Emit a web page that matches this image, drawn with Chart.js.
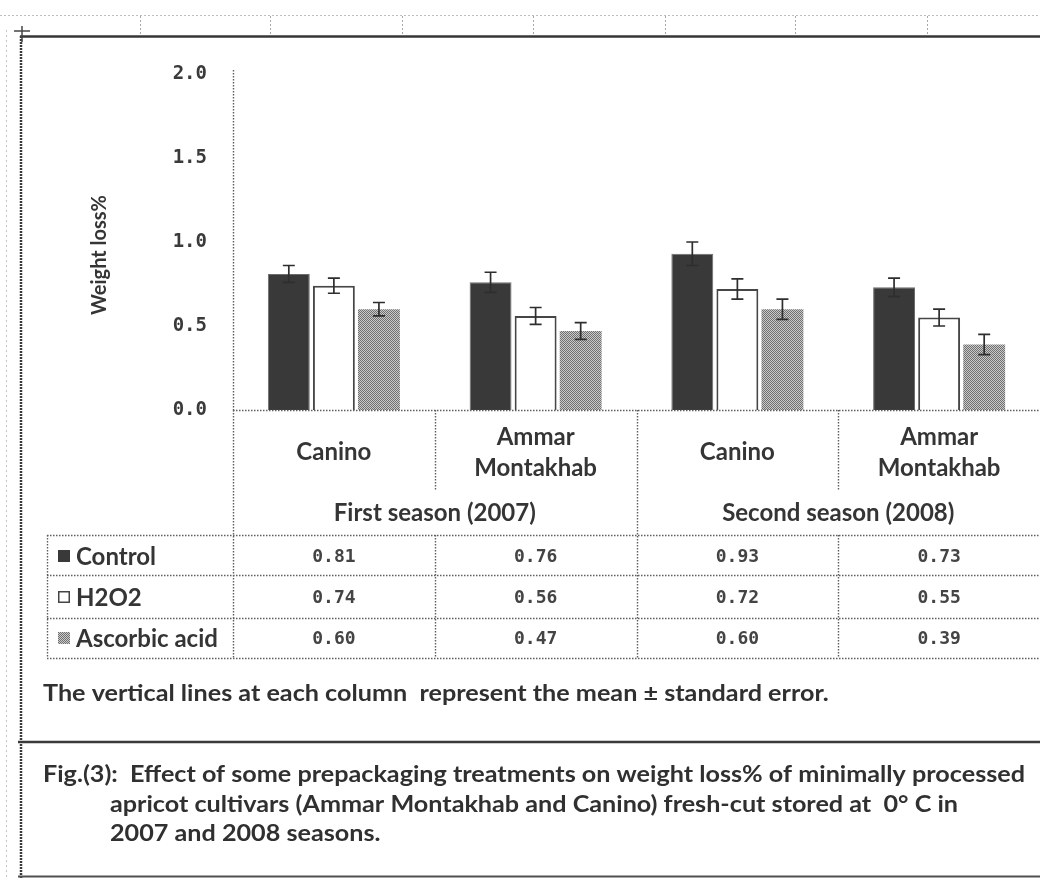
<!DOCTYPE html>
<html>
<head>
<meta charset="utf-8">
<title>Weight loss% of fresh-cut apricot</title>
<script src="https://cdn.jsdelivr.net/npm/chart.js@4.4.1/dist/chart.umd.min.js"></script>
<style>
  html, body { margin: 0; padding: 0; background: #ffffff; }
  canvas { display: block; }
</style>
</head>
<body>
<canvas id="chart" width="1040" height="878"></canvas>
<script>
// ---- data ----
const categories = [['Canino'], ['Ammar', 'Montakhab'], ['Canino'], ['Ammar', 'Montakhab']];
const seasons = ['First season (2007)', 'Second season (2008)'];
const seriesNames = ['Control', 'H2O2', 'Ascorbic acid'];
const controlValues = [0.81, 0.76, 0.93, 0.73];
const h2o2Values = [0.74, 0.56, 0.72, 0.55];
const ascorbicValues = [0.60, 0.47, 0.60, 0.39];
const controlErrors = [0.05, 0.06, 0.07, 0.055];
const h2o2Errors = [0.045, 0.05, 0.06, 0.05];
const ascorbicErrors = [0.04, 0.05, 0.06, 0.06];
const yTickValues = [0, 0.5, 1.0, 1.5, 2.0];
const yTitle = 'Weight loss%';
const noteText = 'The vertical lines at each column  represent the mean \u00b1 standard error.';
const captionLines = [
  'Fig.(3):  Effect of some prepackaging treatments on weight loss% of minimally processed',
  'apricot cultivars (Ammar Montakhab and Canino) fresh-cut stored at  0\u00b0 C in',
  '2007 and 2008 seasons.'
];

// ---- styles ----
const INK = '#353535';
const LABEL_FONT = 'bold 24px Lato, "Open Sans", sans-serif';
const NUM_FONT = 'bold 18px "DejaVu Sans Mono", "Liberation Mono", monospace';

// fine dotted grey fill used for the ascorbic-acid columns
function dotPattern() {
  const c = document.createElement('canvas');
  c.width = 4; c.height = 4;
  const g = c.getContext('2d');
  g.fillStyle = '#cacaca';
  g.fillRect(0, 0, 4, 4);
  g.fillStyle = '#707070';
  for (let y = 0; y < 4; y++) {
    for (let x = 0; x < 4; x++) {
      if ((x + y) % 2 === 0) g.fillRect(x, y, 1, 1);
    }
  }
  return g.createPattern(c, 'repeat');
}
const ascorbicFill = dotPattern();

const seriesStyles = [
  { backgroundColor: '#393939', borderColor: '#6c6c6c', borderWidth: 1 },
  { backgroundColor: '#ffffff', borderColor: '#464646', borderWidth: 2 },
  { backgroundColor: ascorbicFill, borderColor: ascorbicFill, borderWidth: 0 }
];
const seriesValues = [controlValues, h2o2Values, ascorbicValues];
const seriesErrors = [controlErrors, h2o2Errors, ascorbicErrors];

// ---- helpers ----
function dashedLine(ctx, x1, y1, x2, y2, color, width, dash) {
  ctx.save();
  ctx.strokeStyle = color;
  ctx.lineWidth = width;
  ctx.setLineDash(dash || []);
  ctx.beginPath();
  ctx.moveTo(x1, y1);
  ctx.lineTo(x2, y2);
  ctx.stroke();
  ctx.restore();
}
function scaledText(ctx, text, x, y, sx) {
  ctx.save();
  ctx.translate(x, y);
  ctx.scale(sx, 1);
  ctx.fillText(text, 0, 0);
  ctx.restore();
}

// mean ± standard error whiskers
const errorBarPlugin = {
  id: 'errorBars',
  afterDatasetsDraw(chart) {
    const ctx = chart.ctx;
    const y = chart.scales.y;
    ctx.save();
    ctx.strokeStyle = '#2e2e2e';
    ctx.lineWidth = 1.7;
    chart.data.datasets.forEach((ds, i) => {
      const meta = chart.getDatasetMeta(i);
      meta.data.forEach((bar, j) => {
        const v = ds.data[j];
        const e = ds.errors[j];
        const top = y.getPixelForValue(v + e);
        const bot = y.getPixelForValue(v - e);
        const half = 6;
        ctx.beginPath();
        ctx.moveTo(bar.x, top); ctx.lineTo(bar.x, bot);
        ctx.moveTo(bar.x - half, top); ctx.lineTo(bar.x + half, top);
        ctx.moveTo(bar.x - half, bot); ctx.lineTo(bar.x + half, bot);
        ctx.stroke();
      });
    });
    ctx.restore();
  }
};

// page frame, axis title, data table and captions
const pagePlugin = {
  id: 'page',
  beforeDraw(chart) {
    const ctx = chart.ctx;
    ctx.save();
    ctx.fillStyle = '#ffffff';
    ctx.fillRect(0, 0, chart.width, chart.height);
    ctx.restore();
  },
  afterDraw(chart) {
    const ctx = chart.ctx;
    const xs = chart.scales.x;
    const ys = chart.scales.y;
    const W = chart.width;

    // ruler strip along the top and left
    dashedLine(ctx, 0, 15.5, W, 15.5, '#bdbdbd', 1, [2, 2]);
    [140, 270, 402, 533, 665, 795, 927].forEach(tx => dashedLine(ctx, tx + 0.5, 16, tx + 0.5, 34, '#a8a8a8', 1, [2, 2]));
    dashedLine(ctx, 6.5, 30, 6.5, 878, '#c4c4c4', 1, [2, 3]);

    // frame lines
    dashedLine(ctx, 20, 36.5, W, 36.5, '#363636', 2.5);
    dashedLine(ctx, 21, 36, 21, 878, '#3a3a3a', 2.5, [2, 1]);
    dashedLine(ctx, 14, 31, 30, 31, '#444', 1.5);
    dashedLine(ctx, 22, 26, 22, 42, '#444', 1.5);
    dashedLine(ctx, 18, 742, W, 742, '#3a3a3a', 2.5);
    dashedLine(ctx, 18, 876.5, W, 876.5, '#505050', 2);

    // y-axis title
    ctx.save();
    ctx.fillStyle = INK;
    ctx.font = 'bold 20px Lato, "Open Sans", sans-serif';
    ctx.textAlign = 'center';
    ctx.textBaseline = 'middle';
    ctx.translate(100, 255);
    ctx.rotate(-Math.PI / 2);
    ctx.fillText(yTitle, 0, 0);
    ctx.restore();

    // category positions come from the x scale
    const centers = categories.map((_, i) => xs.getPixelForValue(i));
    const bounds = [xs.left];
    for (let i = 0; i < centers.length - 1; i++) bounds.push((centers[i] + centers[i + 1]) / 2);
    bounds.push(xs.right);

    const tableLeft = 47;
    const rowLines = [535, 575, 618, 658];
    const rowMid = [556, 597, 638];
    const lineColor = '#5e5e5e';
    const dots = [1.5, 1.5];

    // dotted value axis
    const ax = Math.round(xs.left) + 0.5;
    dashedLine(ctx, ax, ys.top - 4, ax, ys.bottom, lineColor, 1.4, dots);
    dashedLine(ctx, xs.left, Math.round(ys.bottom) + 0.5, xs.right, Math.round(ys.bottom) + 0.5, lineColor, 1.4, dots);

    // vertical separators
    bounds.slice(0, -1).forEach((bx, i) => {
      const x = Math.round(bx) + 0.5;
      if (i % 2 === 0) {
        dashedLine(ctx, x, xs.top, x, rowLines[3], lineColor, 1.4, dots);
      } else {
        dashedLine(ctx, x, xs.top, x, 490, lineColor, 1.4, dots);
        dashedLine(ctx, x, rowLines[0], x, rowLines[3], lineColor, 1.4, dots);
      }
    });
    dashedLine(ctx, tableLeft + 0.5, rowLines[0], tableLeft + 0.5, rowLines[3], lineColor, 1.4, dots);
    rowLines.forEach(ry => dashedLine(ctx, tableLeft, ry + 0.5, xs.right, ry + 0.5, lineColor, 1.4, dots));

    // category and season labels
    ctx.save();
    ctx.fillStyle = INK;
    ctx.font = LABEL_FONT;
    ctx.textAlign = 'center';
    ctx.textBaseline = 'middle';
    categories.forEach((lines, i) => {
      if (lines.length === 1) {
        ctx.fillText(lines[0], centers[i], 452);
      } else {
        lines.forEach((t, k) => ctx.fillText(t, centers[i], 437 + k * 31));
      }
    });
    seasons.forEach((s, k) => {
      ctx.fillText(s, (centers[2 * k] + centers[2 * k + 1]) / 2, 513);
    });

    // row keys and names
    ctx.textAlign = 'left';
    seriesNames.forEach((name, r) => {
      const st = seriesStyles[r];
      const sy = rowMid[r] - 6;
      ctx.fillStyle = st.backgroundColor;
      ctx.fillRect(58, sy, 12, 12);
      if (r === 1) {
        ctx.strokeStyle = '#444';
        ctx.lineWidth = 1.5;
        ctx.strokeRect(58.75, sy + 0.75, 10.5, 10.5);
      }
      ctx.fillStyle = INK;
      ctx.fillText(name, 76, rowMid[r] + 1);
    });

    // table values
    ctx.font = NUM_FONT;
    ctx.fillStyle = '#444444';
    ctx.textAlign = 'center';
    seriesValues.forEach((vals, r) => {
      vals.forEach((v, i) => ctx.fillText(v.toFixed(2), centers[i], rowMid[r] + 1));
    });

    // note and figure caption
    ctx.fillStyle = '#303030';
    ctx.textAlign = 'left';
    ctx.font = 'bold 23px Lato, "Open Sans", sans-serif';
    const sx = 982 / ctx.measureText(captionLines[0]).width;
    scaledText(ctx, noteText, 43, 694, sx);
    scaledText(ctx, captionLines[0], 43, 775, sx);
    scaledText(ctx, captionLines[1], 110, 805, sx);
    scaledText(ctx, captionLines[2], 110, 834, sx);
    ctx.restore();
  }
};

new Chart(document.getElementById('chart'), {
  type: 'bar',
  data: {
    labels: categories,
    datasets: seriesNames.map((name, i) => Object.assign({
      label: name,
      data: seriesValues[i],
      errors: seriesErrors[i],
      categoryPercentage: 0.67,
      barPercentage: 0.93
    }, seriesStyles[i]))
  },
  options: {
    responsive: false,
    animation: false,
    events: [],
    layout: { padding: { top: 74, right: 0, bottom: 0, left: 0 } },
    plugins: {
      legend: { display: false },
      tooltip: { enabled: false },
      title: { display: false }
    },
    scales: {
      x: {
        grid: { display: false, drawTicks: false },
        ticks: { display: false },
        border: { display: false },
        afterFit(scale) { scale.height = 468; }
      },
      y: {
        min: 0,
        max: 2,
        afterBuildTicks(scale) { scale.ticks = yTickValues.map(v => ({ value: v })); },
        ticks: {
          padding: 26,
          color: '#3a3a3a',
          font: { family: '"DejaVu Sans Mono", "Liberation Mono", monospace', size: 19, weight: 'bold' },
          callback: v => Number(v).toFixed(1)
        },
        grid: { display: false, drawTicks: false },
        border: { display: false },
        afterFit(scale) { scale.width = 233; }
      }
    }
  },
  plugins: [errorBarPlugin, pagePlugin]
});
</script>
</body>
</html>
